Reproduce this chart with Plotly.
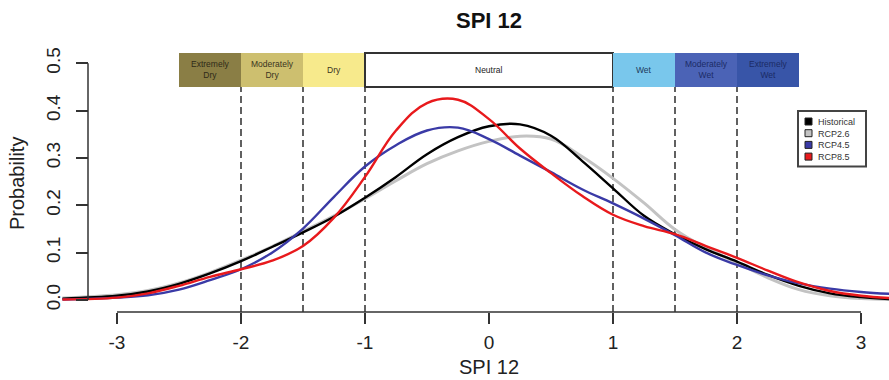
import plotly.graph_objects as go

# SPI values at which the kernel densities are sampled
spi = [-3.44, -3.0, -2.75, -2.5, -2.25, -2.0, -1.75, -1.5, -1.25, -1.0, -0.75, -0.5,
       -0.25, 0.0, 0.25, 0.5, 0.75, 1.0, 1.25, 1.5, 1.75, 2.0, 2.25, 2.5,
       2.75, 3.0, 3.23]

historical = [0.003, 0.009, 0.018, 0.034, 0.056, 0.082, 0.112, 0.143, 0.176, 0.216, 0.260, 0.308,
              0.344, 0.367, 0.371, 0.347, 0.294, 0.236, 0.178, 0.139, 0.107, 0.081, 0.053,
              0.030, 0.014, 0.006, 0.002]
rcp26 = [0.004, 0.011, 0.020, 0.036, 0.058, 0.084, 0.113, 0.145, 0.178, 0.214, 0.252, 0.288,
         0.315, 0.335, 0.346, 0.340, 0.303, 0.257, 0.205, 0.149, 0.110, 0.079, 0.047,
         0.022, 0.009, 0.003, 0.001]
rcp45 = [0.001, 0.005, 0.010, 0.022, 0.042, 0.065, 0.100, 0.151, 0.218, 0.282, 0.327, 0.358,
         0.364, 0.340, 0.305, 0.270, 0.234, 0.204, 0.172, 0.137, 0.100, 0.074, 0.052,
         0.035, 0.024, 0.017, 0.013]
rcp85 = [0.001, 0.005, 0.014, 0.030, 0.049, 0.065, 0.083, 0.114, 0.174, 0.260, 0.358, 0.416,
         0.423, 0.382, 0.320, 0.268, 0.220, 0.180, 0.156, 0.139, 0.114, 0.089, 0.062,
         0.037, 0.019, 0.009, 0.004]

# Drought / wetness classes (lower edge, upper edge, label, fill, text colour)
class_lo = [-2.5, -2.0, -1.5, -1.0, 1.0, 1.5, 2.0]
class_hi = [-2.0, -1.5, -1.0, 1.0, 1.5, 2.0, 2.5]
class_names = ["Extremely<br>Dry", "Moderately<br>Dry", "Dry", "Neutral", "Wet",
               "Moderately<br>Wet", "Extremely<br>Wet"]
class_fill = ["#8a7e45", "#cdbf6f", "#f7ea8c", "#ffffff", "#79c7ec", "#4b63b6", "#3855a8"]
class_text = ["#2e2a18", "#3a3420", "#3a3420", "#222222", "#1d3a5c", "#1b2b66", "#1b2b66"]

# class thresholds drawn as dashed lines
thresholds = [-2.0, -1.5, -1.0, 1.0, 1.5, 2.0]

x_ticks = [-3, -2, -1, 0, 1, 2, 3]
x_ticktext = ["-3", "-2", "-1", "0", "1", "2", "3"]
y_ticks = [0.0, 0.1, 0.2, 0.3, 0.4, 0.5]
y_ticktext = ["0.0", "0.1", "0.2", "0.3", "0.4", "0.5"]

series_names = ["Historical", "RCP2.6", "RCP4.5", "RCP8.5"]
series_values = [historical, rcp26, rcp45, rcp85]
series_colors = ["#000000", "#c3c3c3", "#3a3aa6", "#e8191c"]
series_widths = [2.4, 3.0, 2.4, 2.4]
draw_order = [1, 0, 2, 3]

FONT = "Liberation Sans, Arial, sans-serif"
W, H = 889, 380
L, R, T, B = 62, 0, 49, 68
PW, PH = W - L - R, H - T - B
X0, X1 = (L - 489) / 124.0, (W - R - 489) / 124.0
Y0, Y1 = -12 / 473.4, (300 - T) / 473.4


def px(xp):
    return (xp - L) / PW


def py(yp):
    return (H - B - yp) / PH


fig = go.Figure()

for i in draw_order:
    fig.add_trace(go.Scatter(
        x=spi, y=series_values[i], mode="lines", name=series_names[i],
        line=dict(color=series_colors[i], width=series_widths[i], shape="spline", smoothing=1.1),
        showlegend=False, hoverinfo="skip"))

shapes = []
annotations = []

# dashed thresholds
for t in thresholds:
    shapes.append(dict(type="line", xref="x", yref="y", x0=t, x1=t, y0=Y0, y1=0.45,
                       line=dict(color="#3a3a3a", width=1.6, dash="7px,4px"), layer="below"))

# class boxes with labels
box_lo, box_hi = 0.45, 0.522
for lo, hi, name, fill, tc in zip(class_lo, class_hi, class_names, class_fill, class_text):
    neutral = fill == "#ffffff"
    shapes.append(dict(type="rect", xref="x", yref="y", x0=lo, x1=hi, y0=box_lo, y1=box_hi,
                       fillcolor=fill,
                       line=dict(color="#333333" if neutral else fill, width=2 if neutral else 0)))
    annotations.append(dict(x=(lo + hi) / 2, y=(box_lo + box_hi) / 2, xref="x", yref="y",
                            text=name, showarrow=False, align="center",
                            font=dict(family=FONT, size=8.5, color=tc),
                            xanchor="center", yanchor="middle"))

# axis lines in base-graphics style (spanning only the tick range)
shapes.append(dict(type="line", xref="x", yref="paper", x0=-3, x1=3, y0=0, y1=0,
                   line=dict(color="#333333", width=1.5)))
shapes.append(dict(type="line", xref="paper", yref="y", x0=px(88), x1=px(88), y0=0, y1=0.5,
                   line=dict(color="#333333", width=1.5)))

# legend: framed box, colour keys and one multi-line label block
LEG_FS = 9
row_h = LEG_FS * 1.3
leg_top = 111
first_row = leg_top + 10.5
leg_bottom = first_row + row_h * (len(series_names) - 1) + 10
shapes.append(dict(type="rect", xref="paper", yref="paper", x0=px(798), x1=px(866),
                   y0=py(leg_bottom), y1=py(leg_top), line=dict(color="#444444", width=2),
                   fillcolor="rgba(255,255,255,1)"))
for k, col in enumerate(series_colors):
    yc = first_row + row_h * k
    shapes.append(dict(type="rect", xref="paper", yref="paper", x0=px(805), x1=px(812),
                       y0=py(yc + 3.5), y1=py(yc - 3.5), fillcolor=col,
                       line=dict(color="#222222", width=1)))
annotations.append(dict(x=px(816), y=py((first_row + first_row + row_h * 3) / 2),
                        xref="paper", yref="paper", text="<br>".join(series_names),
                        showarrow=False, xanchor="left", yanchor="middle", align="left",
                        font=dict(family=FONT, size=LEG_FS, color="#333333")))

# titles
annotations.append(dict(x=px(489), y=py(20), xref="paper", yref="paper", text="<b>SPI 12</b>",
                        showarrow=False, xanchor="center", yanchor="middle",
                        font=dict(family=FONT, size=22, color="#111111")))
annotations.append(dict(x=px(489), y=py(367), xref="paper", yref="paper", text="SPI 12",
                        showarrow=False, xanchor="center", yanchor="middle",
                        font=dict(family=FONT, size=20, color="#222222")))
annotations.append(dict(x=px(17), y=py(184), xref="paper", yref="paper", text="Probability",
                        showarrow=False, xanchor="center", yanchor="middle", textangle=-90,
                        font=dict(family=FONT, size=20, color="#222222")))

fig.update_layout(
    width=W, height=H,
    margin=dict(l=L, r=R, t=T, b=B, pad=0),
    paper_bgcolor="white", plot_bgcolor="white",
    showlegend=False,
    shapes=shapes, annotations=annotations,
    xaxis=dict(range=[X0, X1], showgrid=False, zeroline=False, showline=False,
               tickmode="array", tickvals=x_ticks, ticktext=x_ticktext,
               ticks="outside", ticklen=11,
               tickwidth=1.5, tickcolor="#333333", automargin=False,
               tickfont=dict(family=FONT, size=19, color="#222222"), ticklabelstandoff=2),
    yaxis=dict(range=[Y0, Y1], showgrid=False, zeroline=False, showline=False,
               anchor="free", position=px(88),
               tickmode="array", tickvals=y_ticks, ticktext=y_ticktext, tickangle=-90,
               ticks="outside", ticklen=12, tickwidth=1.5, tickcolor="#333333",
               automargin=False,
               tickfont=dict(family=FONT, size=19, color="#222222"), ticklabelstandoff=8),
)

fig.write_html("out.html")
